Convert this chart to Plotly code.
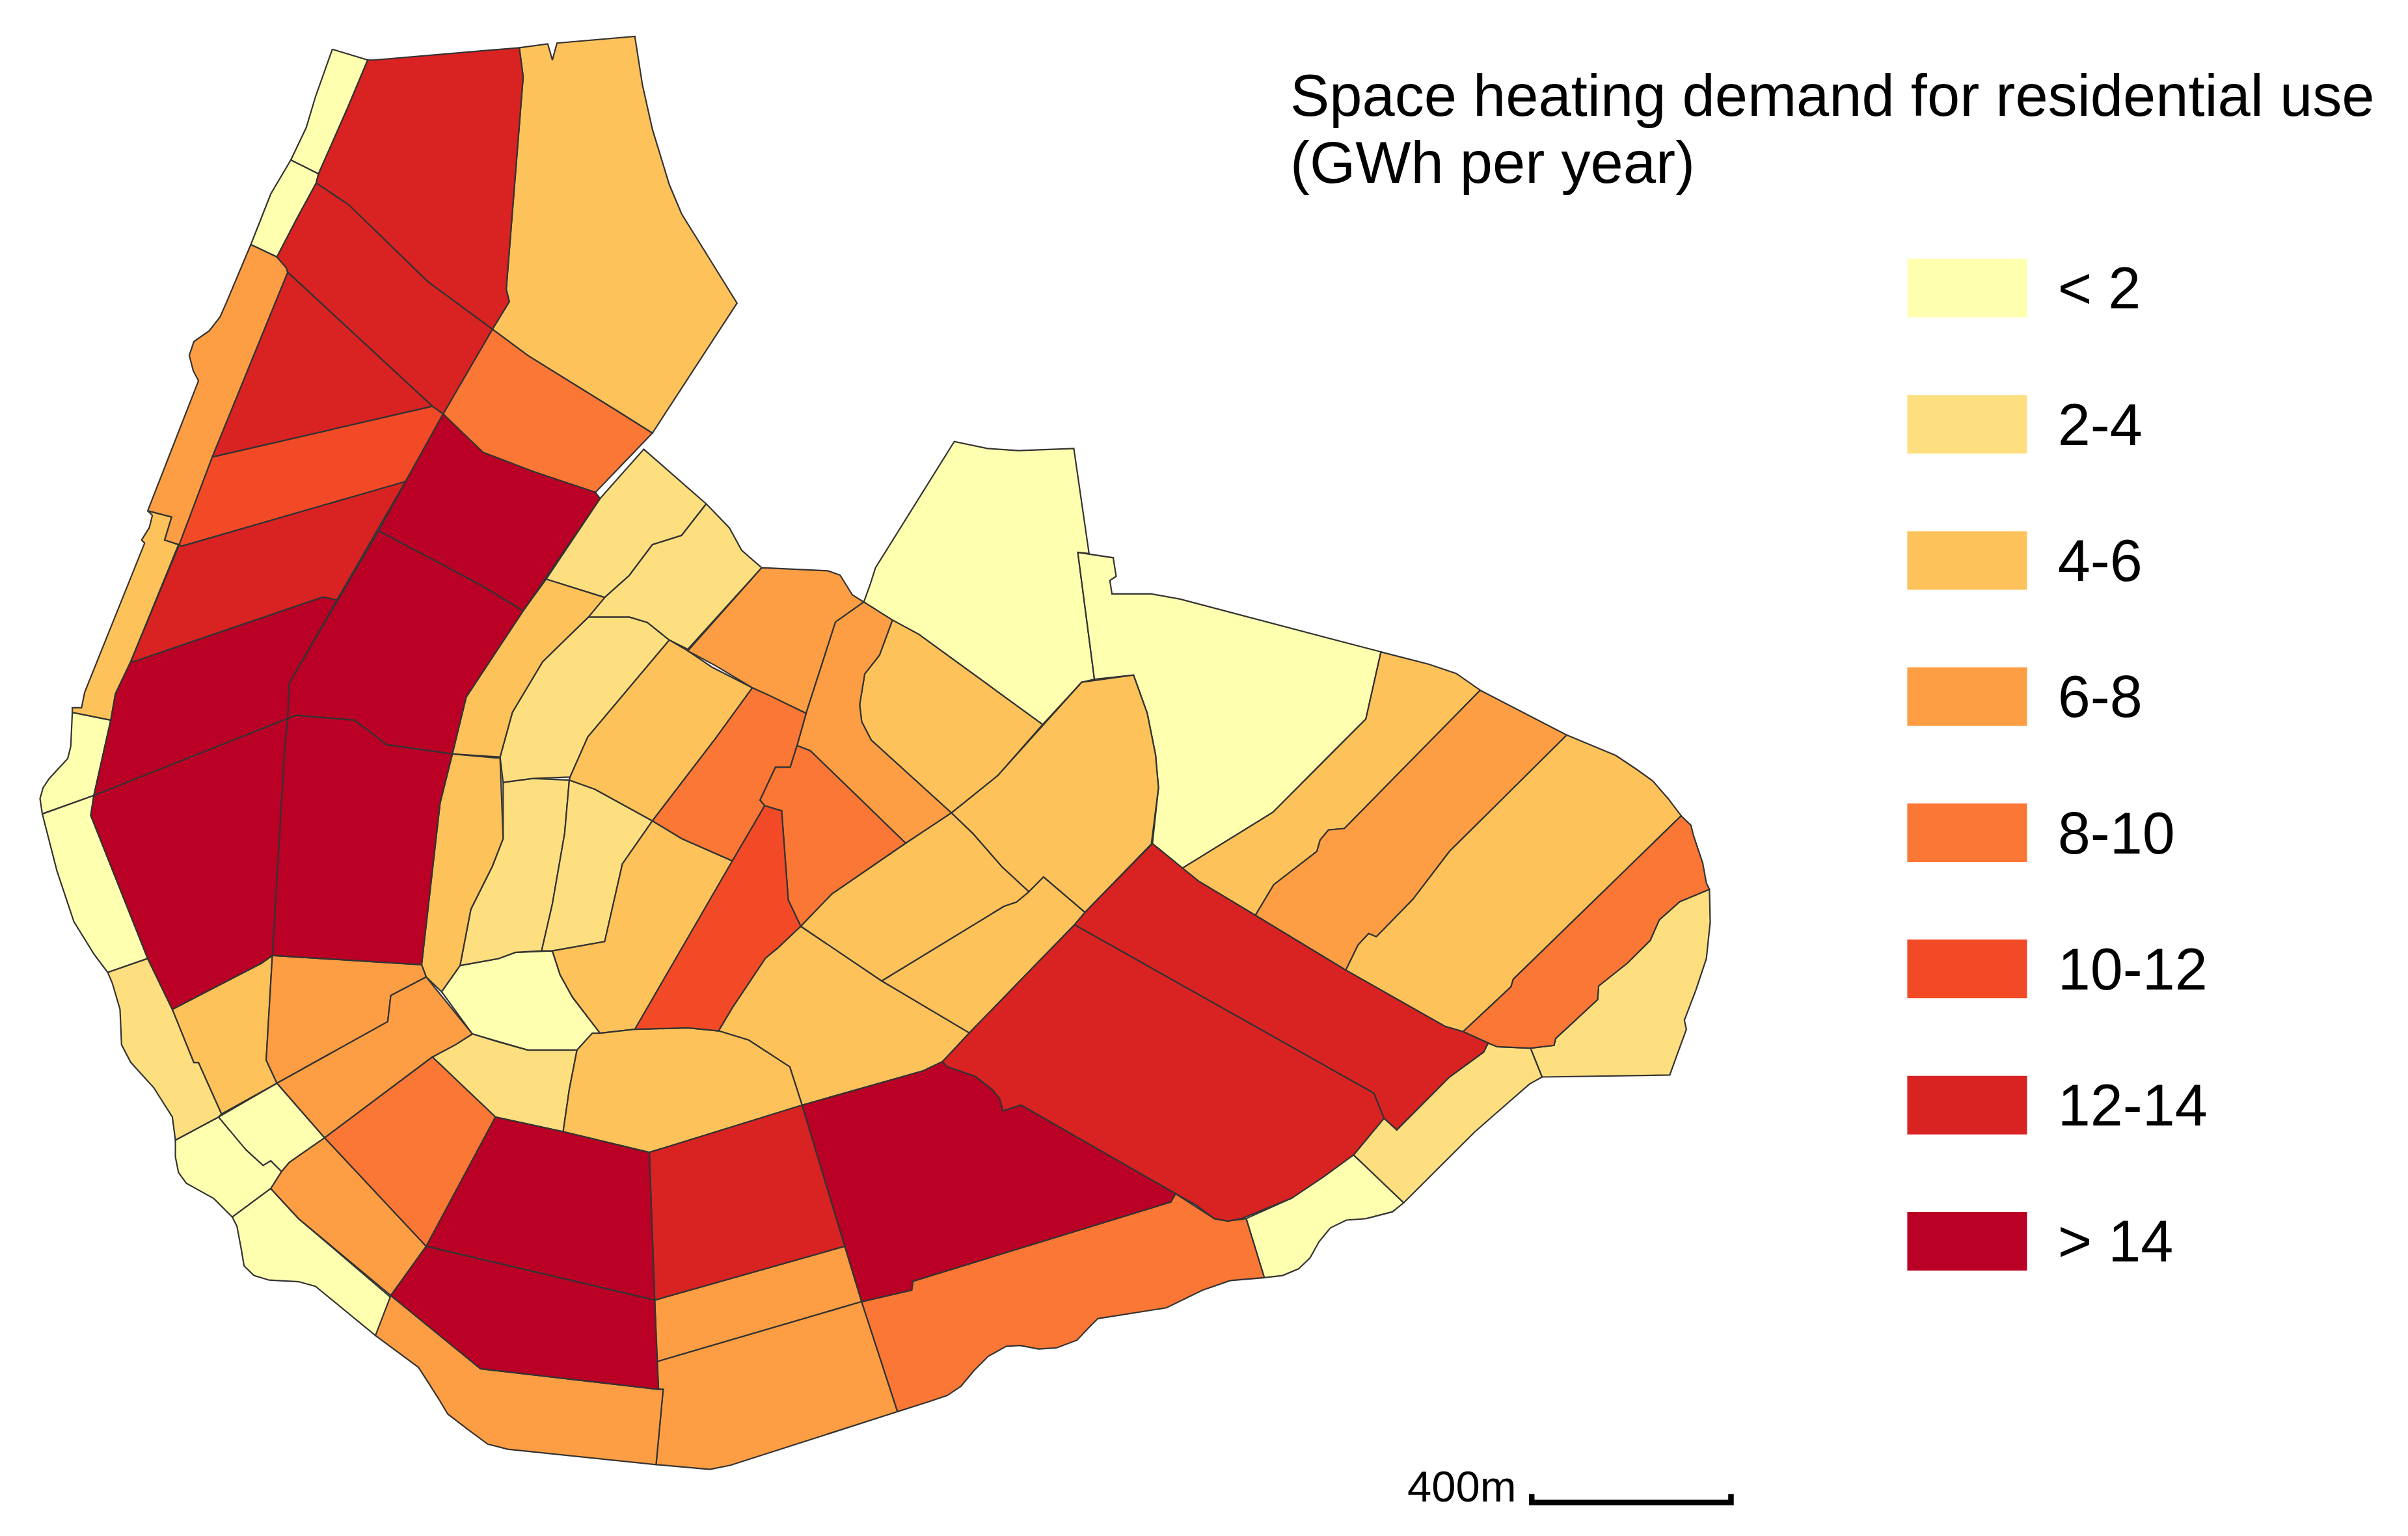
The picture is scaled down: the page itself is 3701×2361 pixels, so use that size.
import plotly.graph_objects as go

# picture coordinates, one list of districts per demand class
class_labels = ["< 2", "2-4", "4-6", "6-8", "8-10", "10-12", "12-14", "> 14"]
class_colors = ["#FFFFB0", "#FEDF80", "#FDC25A", "#FD9E44", "#FB7735", "#F24A26", "#D92222", "#BA0024"]

lt2_districts = [
    [(216,32),(239,39),(226,70),(207,113),(189,104),(199,83),(205,63)],
    [(189,104),(207,113),(205.5,119),(193,142),(180,167),(163,159),(176,126)],
    [(47,463),(72,468),(61,517),(27.5,529),(26,519),(28,512),(32,506),(44,493),(46,485)],
    [(27.5,529),(61,517),(59,530),(96,623),(70,632),(61,620),(48,599),(37,566)],
    [(180,704),(211,739.5),(188,755.5),(183,761.5),(176,754.5),(171,757.5),(160,747.5),(152,739.5),(142,726)],
    [(114,741),(142,726),(160,747.5),(171,757.5),(176,754.5),(183,761.5),(176,772.5),(151,791),(139,779),(121,769),(116,762),(114,752)],
    [(176,772.5),(194,792),(256,845),(244,868),(205,836),(194,833),(175,832),(165,829),(158.6,822.7),(157,813),(154,797),(151,791)],
    [(287,644.5),(299,627.5),(324,623),(335,619),(359,618),(364,633.5),(372,648),(390,671.5),(385,671.5),(375,682.5),(343,682.5),(320,676),(307,672)],
    [(561.4,391.3),(565.5,380),(569,369),(620.2,287),(641.8,291.5),(662,292.9),(697.9,291.5),(707.8,359.8),(700.5,359),(711.3,441.5),(703,443.4),(677.6,470.9),(597.2,412.3),(580,403)],
    [(700.5,359),(723.5,362.5),(725.4,374.6),(721.3,377.3),(722.7,386),(748.3,386),(767,389.4),(897.5,423.7),(887.7,467.3),(827.2,528),(768.4,564.3),(749,548.3),(752.9,512),(751,490.6),(745.6,463.6),(736.7,438.8),(711.3,441.5)],
    [(879.7,750.6),(912.3,781.7),(905,787.6),(887.9,792),(875,793),(864.7,798),(857.3,807),(851.4,817.6),(844,824.6),(833.6,829),(821.7,830.4),(809.9,792),(839.6,778.7)],
]

d2_4_districts = [
    [(70,632),(96,623),(112,656),(126,690.5),(129,690.5),(144,724),(142,726),(114,741),(112,726),(100,707),(85,690.5),(79,679),(78,656),(73,639)],
    [(281,687),(296,679),(307,672),(320,676),(343,682.5),(375,682.5),(370,708),(366,735.5),(322,726)],
    [(327,508.5),(346,506),(370,507),(367,541.5),(359,587.5),(352,618),(335,619),(324,623),(299,627.5),(301,617),(306,591),(320,563),(327,545)],
    [(370,507),(386.7,513),(424,533.5),(404.5,561.5),(393,612),(359,618),(352,618),(359,587.5),(367,541.5)],
    [(325,492),(333,463),(352.7,430),(382.5,401),(409,401),(420.7,404.5),(435,416),(382,479),(370.5,505),(346,506),(327,508.5)],
    [(390,324),(418.4,292),(459,327.5),(443,348),(424,354),(409,374),(393,388.3),(355,376.4)],
    [(459,327.5),(474,343),(482,357.6),(495,369),(447,422),(435,416),(420.7,404.5),(409,401),(382.5,401),(393,388.3),(409,374),(424,354),(443,348)],
    [(1111,578),(1111.5,599.3),(1109,623),(1102,644),(1094.7,663),(1096,669),(1085.2,698.7),(1002.2,700),(994.7,681.2),(1010,679.4),(1011,675),(1038.3,649.7),(1039,640.8),(1057.6,626),(1072.5,611.2),(1078.4,597.8),(1091.7,586)],
    [(967.2,677.9),(973,680.3),(994.7,681.2),(1002.2,700),(994,704.6),(958.3,735.8),(912.3,781.7),(879.7,750.6),(899.5,726.8),(907.8,734.3),(942,700),(964.2,683.8)],
]

d4_6_districts = [
    [(337.5,31),(356,28.5),(359,39),(362,28),(412.6,23.6),(417.5,55),(424,84),(430,103.5),(435,120),(443,139),(453,155),(479,197),(424,281.5),(401,267),(343,231),(320,214),(331,196),(329,188),(340,50)],
    [(96,332),(111.6,336),(107,351),(116,354),(85,430),(75,451),(72,468),(47,463),(47,460),(53,460),(55,450),(94,353),(92,351),(97,343),(99,335)],
    [(112,656),(170,626),(177,621),(173,689),(180,704),(144,724),(129,690.5),(126,690.5)],
    [(294,490),(325,492.8),(327,545),(320,563),(306,591),(301,617),(299,627.5),(287,644.5),(277,635),(274,627),(286,522)],
    [(355,376.4),(393,388.3),(382.5,401),(352.7,430),(333,463),(325,492),(294,490),(303,453),(340,397)],
    [(435,416),(447,423),(462.7,433.6),(489,447),(465,480),(424,533.5),(386.7,513),(370,507),(370.5,505),(382,479)],
    [(424,533.5),(443,545),(476,559.5),(412.6,669),(390,671.5),(372,648),(364,633.5),(359,618),(393,612),(404.5,561.5)],
    [(520.4,602),(573,637.5),(630,671.3),(612.6,690),(600,696),(521.3,718.3),(513.3,693.4),(486.6,676),(467,670),(475.9,655),(497.5,622.7),(505.6,616)],
    [(390,671.5),(412.6,669),(447,668),(467,670),(486.6,676),(513.3,693.4),(521.3,718.3),(422,749),(366,735.5),(370,708),(375,682.5),(385,671.5)],
    [(618.3,528.3),(648.5,504),(703,443.4),(736.7,438.8),(745.6,463.6),(751,490.6),(752.9,512),(748.3,548.5),(705.1,593),(695.7,585),(678.2,570),(668.7,579.6),(651.2,563.4),(632.3,541.8)],
    [(678.2,570),(695.7,585),(705.1,593),(698.4,601),(630,671.3),(573,637.5),(652.5,589),(660.6,586.3),(668.7,579.6)],
    [(520.4,602),(540.6,581),(588.6,548),(618.3,528.3),(632.3,541.8),(651.2,563.4),(668.7,579.6),(660.6,586.3),(652.5,589),(573,637.5)],
    [(580,403),(597.2,412.3),(677.6,470.9),(648.5,504),(618.3,528.3),(566.2,481),(560,469),(558.7,458),(562,438),(571.6,425.8)],
    [(897.5,423.7),(928.6,431.7),(946.4,437.7),(962,448.6),(873.7,538.5),(863.4,539.4),(858,545.9),(855.9,553.3),(827.8,575),(815.9,594.9),(778.8,572.6),(768.4,564.3),(827.2,528),(887.7,467.3)],
    [(1018.2,477.7),(1050.2,491),(1063.6,500),(1074,507.4),(1084.3,519.2),(1092.6,530.2),(983.5,636.4),(982,641.4),(950.9,670.5),(939,667),(874.6,630.5),(882.6,614.1),(889.5,606.7),(894.5,608.8),(918.2,584.5),(942,553.3)],
]

d6_8_districts = [
    [(163,159),(180,167),(186,174),(187,177),(138,297),(116.5,354),(107,351),(111.6,336),(96,332),(129,247.5),(125.6,241),(123,231),(126,222),(136,215),(143,206),(147,197)],
    [(177,621),(274,627),(277,635),(254,647),(252,664),(180,704),(173,689)],
    [(277,635),(307,672),(296,679),(281,687),(211,739.5),(180,704),(252,664),(254,647)],
    [(176,772.5),(183,761.5),(188,755.5),(211,739.5),(277,810),(254,842),(194,792)],
    [(495,369),(538,371),(546,373.8),(554,386.7),(561.4,391.3),(543,404.3),(523.9,463.6),(500,452),(489,447),(465,432.6),(447,423)],
    [(561.4,391.3),(580,403),(571.6,425.8),(562,438),(558.7,458),(560,469),(566.2,481),(618.3,528.3),(588.6,548),(526.6,487.9),(518,484.6),(523.9,463.6),(543,404.3)],
    [(425.5,845),(549,810),(560,846),(427,885)],
    [(427,885),(560,846),(583.3,917.5),(474.7,952.3),(461.4,955),(426.4,951.9),(431,903),(428,903)],
    [(254,842),(312.3,889.6),(428,903),(431,903),(426.4,951.9),(330,941.9),(317,938.6),(304,929),(291,919),(285,909),(278,898),(272,888.7),(244,868)],
    [(962,448.6),(1018.2,477.7),(942,553.3),(918.2,584.5),(894.5,608.8),(889.5,606.7),(882.6,614.1),(874.6,630.5),(815.9,594.9),(827.8,575),(855.9,553.3),(858,545.9),(863.4,539.4),(873.7,538.5)],
]

d8_10_districts = [
    [(320,214),(343,231),(401,267),(424,281.5),(387,320),(354,309),(315,296),(288,269)],
    [(211,739.5),(281,687),(322,726),(277,810)],
    [(489,447),(500,452),(523.9,463.6),(518,484.6),(513.6,498.7),(504,498.7),(494,520),(497,523.7),(476,559.5),(443,545),(424,533.5),(465,480)],
    [(518,484.6),(526.6,487.9),(588.6,548),(540.6,581),(520.4,602),(512.3,585),(508,527),(497,523.7),(494,520),(504,498.7),(513.6,498.7)],
    [(560,846),(592.5,838.5),(593.3,832.7),(761,781.2),(764,775.8),(789.2,792),(798,793.6),(809.9,792),(821.7,830.4),(799.5,832.3),(781.7,838.5),(758,850),(713.5,857),(707.5,863),(700,871),(686.8,876),(675,876.8),(663,874.5),(654,875),(642.3,881.5),(633,890.8),(624.5,901),(615.6,907),(603.7,911),(583.3,917.5)],
    [(1092.6,530.2),(1099,536.4),(1100.6,543),(1106.6,560.8),(1109,574),(1111,578),(1091.7,586),(1078.4,597.8),(1072.5,611.2),(1057.6,626),(1039,640.8),(1038.3,649.7),(1011,675),(1010,679.4),(994.7,681.2),(973,680.3),(967.2,677.9),(950.9,670.5),(982,641.4),(983.5,636.4)],
]

d10_12_districts = [
    [(138,297),(281,264),(288,269),(263.5,313),(118,355),(116.5,354)],
    [(497,523.7),(508,527),(512.3,585),(520.4,602),(505.6,616),(497.5,622.7),(475.9,655),(467,670),(447,668),(412.6,669),(476,559.5)],
]

d12_14_districts = [
    [(243,39),(337.5,31),(340,50),(329,188),(331,196),(320,214),(278,183),(226.5,133),(205.5,119),(207,113),(226,70),(239,39)],
    [(205.5,119),(226.5,133),(278,183),(320,214),(288,269),(281,264),(187,177),(186,174),(180,167),(193,142)],
    [(187,177),(281,264),(138,297)],
    [(118,355),(263.5,313),(219,390),(210,388),(87,430),(85,430),(116.5,354)],
    [(422,749),(521.3,718.3),(549,810),(425.5,845)],
    [(698.4,601),(893,710.5),(899.5,726.8),(879.7,750.6),(860,765),(839.6,778.7),(807,792),(798,793.6),(789.2,792),(777.3,783.2),(764,775.8),(663.6,718.3),(651.8,722),(649.7,714.3),(645.2,708.5),(634,699.7),(615.6,693.4),(612.6,690),(630,671.3)],
    [(749,548.3),(768.4,564.3),(778.8,572.6),(815.9,594.9),(874.6,630.5),(939,667),(950.9,670.5),(967.2,677.9),(964.2,683.8),(942,700),(907.8,734.3),(899.5,726.8),(893,710.5),(698.4,601),(705.1,593)],
]

gt14_districts = [
    [(85,430),(87,430),(210,388),(219,390),(188,444),(187,467),(61,517),(72,468),(75,451)],
    [(288,269),(314,294),(348,307),(387,320),(390,324),(340,397),(312,380),(246,345)],
    [(246,345),(306,377),(312,380),(340,397),(303,453),(294,490),(251,484),(241,476),(230,468),(192.5,465),(187,467),(188,444)],
    [(187,467),(192.5,465),(230,468),(241,476),(251,484),(294,490),(286,522),(274,627),(177,621),(185,486)],
    [(61,517),(187,467),(185,486),(177,621),(170,626),(112,656),(96,623),(59,530)],
    [(521.3,718.3),(600,696),(612.6,690),(615.6,693.4),(634,699.7),(645.2,708.5),(649.7,714.3),(651.8,722),(663.6,718.3),(764,775.8),(761,781.2),(593.3,832.7),(592.5,838.5),(560,846)],
    [(322,726),(366,735.5),(422,749),(425.5,845),(277,810)],
    [(277,810),(425.5,845),(428,903),(312.3,889.6),(254,842)],
]

all_classes = [lt2_districts, d2_4_districts, d4_6_districts, d6_8_districts,
               d8_10_districts, d10_12_districts, d12_14_districts, gt14_districts]

title_lines = ["Space heating demand for residential use", "(GWh per year)"]
scale_label = "400m"
scale_x = [995.5, 995.5, 1125, 1125]
scale_y = [971, 976.5, 976.5, 971]

fig = go.Figure()

for label, color, districts in zip(class_labels, class_colors, all_classes):
    for poly in districts:
        xs = [p[0] for p in poly] + [poly[0][0]]
        ys = [p[1] for p in poly] + [poly[0][1]]
        fig.add_trace(go.Scatter(x=xs, y=ys, mode='lines', fill='toself', fillcolor=color,
                                 line=dict(color='#333333', width=2.2), name=label,
                                 hoverinfo='name', showlegend=False))

# Scale bar
fig.add_trace(go.Scatter(x=scale_x, y=scale_y, mode='lines', line=dict(color='black', width=8.5),
                         hoverinfo='skip', showlegend=False))

# Legend swatches, as bars on their own axes
fig.add_trace(go.Bar(x=[1] * len(class_labels), y=class_labels, orientation='h',
                     marker=dict(color=class_colors, line=dict(width=0)),
                     xaxis='x2', yaxis='y2', hoverinfo='skip', showlegend=False))

W, H = 3701, 2361
MAP_W, MAP_H = 1565, 998.3

fig.update_layout(
    width=W, height=H, margin=dict(l=0, r=0, t=0, b=0),
    paper_bgcolor='white', plot_bgcolor='white',
    font=dict(family='Liberation Sans', color='black'),
    bargap=0.57,
    xaxis=dict(range=[0, MAP_W], visible=False, domain=[0, 1]),
    yaxis=dict(range=[MAP_H, 0], visible=False, domain=[0, 1]),
    xaxis2=dict(range=[0, 1], visible=False, domain=[1239.5 / MAP_W, 1317.5 / MAP_W], anchor='y2'),
    yaxis2=dict(type='category', categoryorder='array', categoryarray=class_labels, autorange='reversed',
                domain=[1 - 851 / MAP_H, 1 - 143 / MAP_H], anchor='x2', side='right',
                showgrid=False, zeroline=False, showline=False, ticks='',
                ticklabelstandoff=46, tickfont=dict(size=90, color='black')),
)

fig.add_annotation(text=title_lines[0], x=837.5, y=62, xref='x', yref='y', xanchor='left', yanchor='middle',
                   showarrow=False, font=dict(size=90.3))
fig.add_annotation(text=title_lines[1], x=837.5, y=105.5, xref='x', yref='y', xanchor='left', yanchor='middle',
                   showarrow=False, font=dict(size=90.3))
fig.add_annotation(text=scale_label, x=914, y=966, xref='x', yref='y', xanchor='left', yanchor='middle',
                   showarrow=False, font=dict(size=67))

# page margin would push the plot off its 3701x2361 frame
fig.write_html("out.html", config={'displayModeBar': False}, post_script="document.body.style.margin='0';")
